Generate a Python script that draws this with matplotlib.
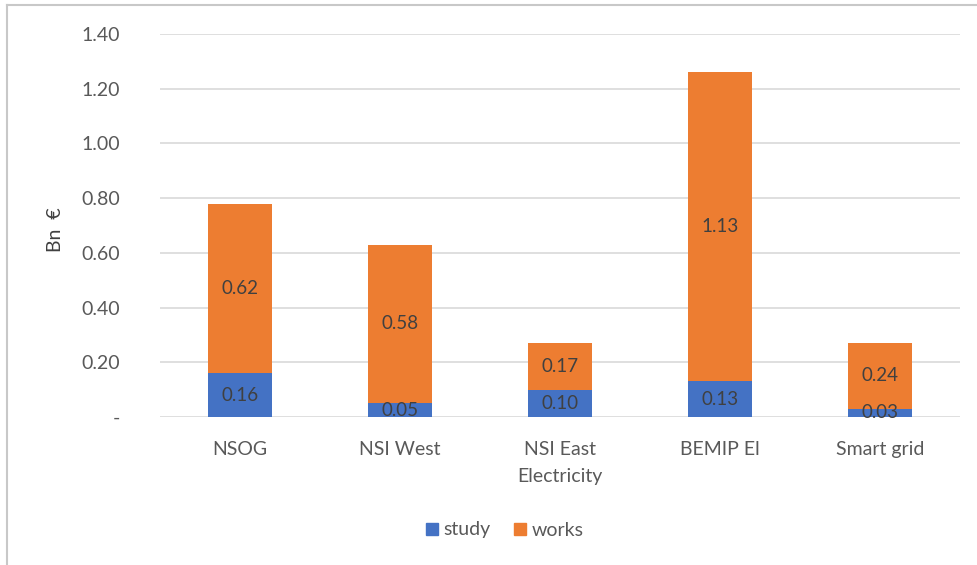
import matplotlib.pyplot as plt
from matplotlib.lines import Line2D
import numpy as np

plt.rcParams['font.family'] = ['Lato', 'DejaVu Sans']

categories = ['NSOG', 'NSI West', 'NSI East\nElectricity', 'BEMIP El', 'Smart grid']
study = [0.16, 0.05, 0.10, 0.13, 0.03]
works = [0.62, 0.58, 0.17, 1.13, 0.24]
yticks = [0, 0.2, 0.4, 0.6, 0.8, 1.0, 1.2, 1.4]
ytick_labels = ['-', '0.20', '0.40', '0.60', '0.80', '1.00', '1.20', '1.40']

blue = '#4472C4'
orange = '#ED7D31'
txt = '#595959'

fig = plt.figure(figsize=(9.78, 5.65), dpi=100)
ax = fig.add_axes([160 / 978, 1 - 417 / 565, 800 / 978, 383 / 565])

x = np.arange(len(categories))
b1 = ax.bar(x, study, width=0.4, color=blue, zorder=2, label='study')
b2 = ax.bar(x, works, width=0.4, bottom=study, color=orange, zorder=2, label='works')

for rect, v in zip(b1, study):
    ax.text(rect.get_x() + rect.get_width() / 2, rect.get_y() + rect.get_height() / 2,
            f'{v:.2f}', ha='center', va='center', fontsize=13.5, color='#404040', zorder=3)
for rect, v in zip(b2, works):
    ax.text(rect.get_x() + rect.get_width() / 2, rect.get_y() + rect.get_height() / 2,
            f'{v:.2f}', ha='center', va='center', fontsize=13.5, color='#404040', zorder=3)

ax.set_xlim(-0.5, len(categories) - 0.5)
ax.set_ylim(0, 1.4)
ax.set_yticks(yticks)
ax.set_yticklabels(ytick_labels)
ax.set_xticks(x)
ax.set_xticklabels(categories)
ax.yaxis.grid(True, color='#D9D9D9', linewidth=1.2, zorder=0)
ax.set_axisbelow(True)
for s in ax.spines.values():
    s.set_visible(False)
ax.tick_params(axis='both', length=0, colors=txt, labelsize=14)
ax.tick_params(axis='y', pad=29)
ax.tick_params(axis='x', pad=17)
for lbl in ax.get_xticklabels():
    lbl.set_linespacing(1.75)

ax.set_ylabel('Bn  €', fontsize=14, color='#404040')
ax.yaxis.set_label_coords(-0.12, 0.49)

handles = [Line2D([], [], marker='s', linestyle='', markersize=9, color=blue),
           Line2D([], [], marker='s', linestyle='', markersize=9, color=orange)]
fig.legend(handles, ['study', 'works'], loc='center', bbox_to_anchor=(503 / 978, 1 - 530 / 565),
           ncol=2, frameon=False, fontsize=14, labelcolor=txt, handletextpad=0.1,
           columnspacing=1.0, handlelength=1.0)

# light frame around the chart
fig.add_artist(Line2D([7 / 978, 7 / 978], [0, 1 - 5 / 565], transform=fig.transFigure,
                      color='#C8C8C8', linewidth=1.5))
fig.add_artist(Line2D([7 / 978, 1], [1 - 5 / 565, 1 - 5 / 565], transform=fig.transFigure,
                      color='#C8C8C8', linewidth=1.5))

fig.savefig('out.png', dpi=100)
